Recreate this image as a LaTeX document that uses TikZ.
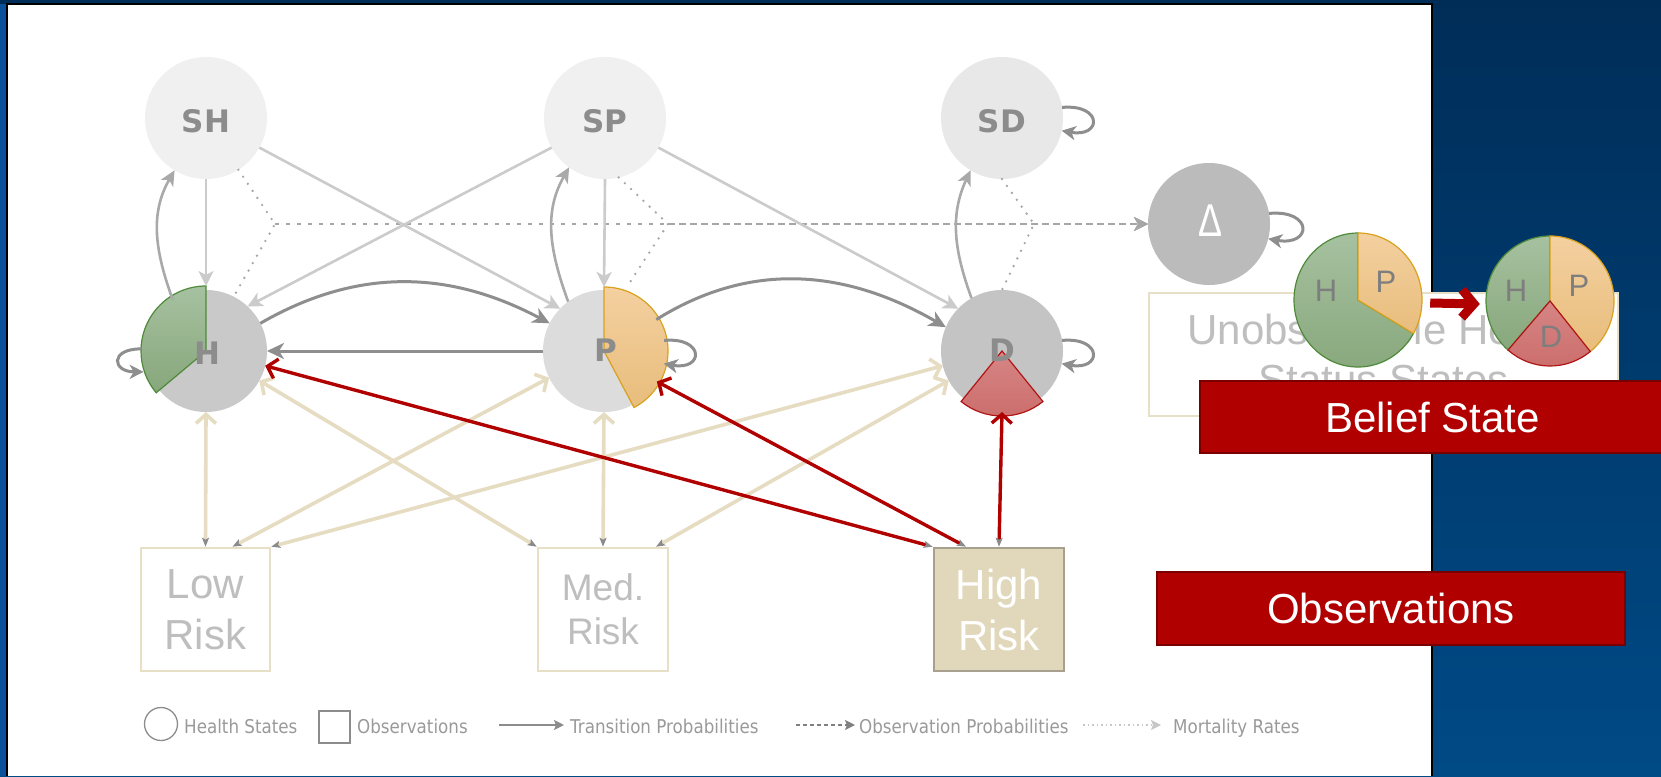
\documentclass[tikz,border=0pt]{standalone}
\usepackage{graphicx}
\usepackage{fontspec}
\setmainfont{Liberation Sans}
\newfontfamily\statefont{DejaVu Sans}
\newfontfamily\legendfont[FakeStretch=0.88]{DejaVu Sans}
\usetikzlibrary{arrows.meta}

% palette
\definecolor{bgtop}{HTML}{002D58}
\definecolor{bgbot}{HTML}{004A86}
\definecolor{bgedge}{HTML}{0B5199}
\definecolor{stpale}{HTML}{F0F0F0}
\definecolor{stpaleD}{HTML}{E8E8E8}
\definecolor{stH}{HTML}{C9C9C9}
\definecolor{stP}{HTML}{DCDCDC}
\definecolor{stD}{HTML}{C4C4C4}
\definecolor{stDelta}{HTML}{BBBBBB}
\definecolor{labgrey}{HTML}{8C8C8C}
\definecolor{tlight}{HTML}{CBCBCB}
\definecolor{tmid}{HTML}{A9A9A9}
\definecolor{tdark}{HTML}{8E8E8E}
\definecolor{mgrey}{HTML}{A6A6A6}
\definecolor{beigeline}{HTML}{E6DCC2}
\definecolor{beigebox}{HTML}{E8DFC7}
\definecolor{highfill}{HTML}{E1D7BA}
\definecolor{highedge}{HTML}{A8A08E}
\definecolor{boxtext}{HTML}{BEBEBE}
\definecolor{tipgrey}{HTML}{8A8A8A}
\definecolor{alarm}{HTML}{B00000}
\definecolor{alarmedge}{HTML}{7A0000}
\definecolor{greenA}{HTML}{A6C1A0}
\definecolor{greenB}{HTML}{87A77B}
\definecolor{greenedge}{HTML}{4F8A3A}
\definecolor{orangeA}{HTML}{F4D0A0}
\definecolor{orangeB}{HTML}{E8BD7C}
\definecolor{orangeedge}{HTML}{D9A11E}
\definecolor{redA}{HTML}{D68585}
\definecolor{redB}{HTML}{CB6D6B}
\definecolor{rededge}{HTML}{B01515}
\definecolor{pielab}{HTML}{7E7E7E}
\definecolor{legtext}{HTML}{9A9A9A}
\definecolor{legline}{HTML}{8C8C8C}

\begin{document}
\begin{tikzpicture}[x=1pt, y=1pt,
  stcircle/.style={circle, minimum size=122pt, inner sep=0pt, outer sep=0pt},
  stlabel/.style={inner sep=0pt, text=labgrey, font=\statefont\bfseries\fontsize{31}{36}\selectfont},
  trans/.style={draw=tlight, line width=2.6pt, -{Stealth[length=15pt,width=15pt,inset=4pt]}},
  transmid/.style={draw=tmid, line width=2.6pt, -{Stealth[length=15pt,width=14pt,inset=4pt]}},
  transdark/.style={draw=tdark, line width=3pt, -{Stealth[length=17pt,width=16pt,inset=5pt]}},
  selfloop/.style={draw=tdark, line width=3pt, -{Stealth[length=14pt,width=14pt,inset=4pt]}},
  mort/.style={draw=mgrey, line width=2.6pt, line cap=round, dash pattern=on 0pt off 8.5pt},
  mortline/.style={draw=mgrey, line width=2pt, dash pattern=on 4pt off 7pt, -{Stealth[length=14pt,width=14pt,inset=4pt]}},
  obsline/.style={draw=beigeline, line width=3.6pt, {Straight Barb[length=9pt,width=20pt]}-{Stealth[length=9pt,width=7pt,inset=2pt,color=tipgrey]}},
  alarmline/.style={draw=alarm, line width=3.4pt, {Straight Barb[length=9pt,width=20pt]}-{Stealth[length=9pt,width=7pt,inset=2pt,color=tipgrey]}},
  obsbox/.style={rectangle, draw=beigebox, line width=2.6pt, fill=white, minimum height=123pt, inner sep=0pt, align=center, text=boxtext},
  redbox/.style={rectangle, fill=alarm, draw=alarmedge, line width=1.5pt, text=white, inner sep=0pt, font=\fontsize{42}{50}\selectfont},
  pielabel/.style={inner sep=0pt, text=pielab, font=\fontsize{31}{36}\selectfont},
  legtxt/.style={anchor=base west, inner sep=0pt, text=legtext, font=\legendfont\fontsize{19}{22}\selectfont},
  slice/.style={line width=1.2pt},
]
\useasboundingbox (0,0) rectangle (1661,-776);

% backdrop and white panel
\shade[top color=bgtop, bottom color=bgbot] (0,0) rectangle (1661,-776);
\fill[bgedge] (0,-4) rectangle (7,-776);
\fill[white] (7,-4) rectangle (1432,-776);
\draw[black, line width=1.5pt] (7,-776) -- (7,-4) -- (1432,-4) -- (1432,-776);

% caption box for the hidden states
\node[obsbox, minimum width=469pt, minimum height=123pt, font=\fontsize{42}{50}\selectfont] (unobs) at (1383.5,-354.5) {Unobservable Health\\Status States};

% health states
\node[stcircle, fill=stpale] (SH) at (206,-118) {};
\node[stcircle, fill=stpale] (SP) at (605,-118) {};
\node[stcircle, fill=stpaleD] (SD) at (1002,-118) {};
\node[stcircle, fill=stH] (H) at (206,-351) {};
\node[stcircle, fill=stP] (P) at (604,-351) {};
\node[stcircle, fill=stD] (D) at (1002,-351) {};
\node[stcircle, fill=stDelta] (Delta) at (1209,-224) {};

% belief wedges on the current states
\path[slice, draw=greenedge, top color=greenA, bottom color=greenB]
  (H.center) -- ++(90:65) arc[start angle=90, end angle=220, radius=65] -- cycle;
\path[slice, draw=orangeedge, top color=orangeA, bottom color=orangeB]
  (P.center) -- ++(90:64) arc[start angle=90, end angle=-62, radius=64] -- cycle;
\path[slice, draw=rededge, top color=redA, bottom color=redB]
  (D.center) -- ++(-129:65) arc[start angle=-129, end angle=-51, radius=65] -- cycle;

% state labels
\node[stlabel] (SHl) at (206,-121) {SH};
\node[stlabel] (SPl) at (605,-121) {SP};
\node[stlabel] (SDl) at (1002,-121) {SD};
\node[stlabel] (Hl) at (207,-353) {H};
\node[stlabel] (Pl) at (606,-350) {P};
\node[stlabel] (Dl) at (1002,-350) {D};
\node[inner sep=0pt, text=white, font=\fontsize{46}{50}\selectfont] (Deltal) at (1210,-221) {\scalebox{0.78}[1]{Δ}};

% mortality paths
\coordinate (J1) at (275,-224);
\coordinate (J2) at (668,-224);
\coordinate (J3) at (1034,-224);
\draw[mort] (SH.-58) -- (J1) -- (H.63);
\draw[mort, shorten >=8pt] (SP.-77) -- (J2) -- (P.72);
\draw[mort] (SD.-90) -- (J3) -- (D.90);
\draw[mortline] (J1) -- (Delta.west);
\draw[mortline] (J2) -- (Delta.west);
\draw[mortline] (J3) -- (Delta.west);

% transitions
\draw[trans] (SH.-90) -- ([yshift=4pt]H.90);
\draw[trans] (SP.-90) -- ([yshift=3pt]P.90);
\draw[trans] (SH.-29) -- (P.136);
\draw[trans] (SP.209) -- (H.47);
\draw[trans] (SP.-29) -- (D.136);
\draw[transmid] (H.123) to[out=110, in=240] (SH.239);
\draw[transmid] (P.126) to[out=110, in=240] (SP.234);
\draw[transmid] (D.120) to[out=110, in=245] (SD.239);
\draw[transdark] (H.27) to[out=30, in=152] (P.153);
\draw[transdark] (P.31) to[out=32, in=150] (D.157);
\draw[transdark] (P.180) -- (H.0);

% self transitions
\draw[selfloop] ([xshift=-4pt]H.178) to[out=180, in=180, looseness=3.5] ([xshift=-5pt]H.200);
\draw[selfloop] (P.10) to[out=5, in=-10, looseness=4.5] (P.-12);
\draw[selfloop] (D.10) to[out=5, in=-10, looseness=4.5] (D.-12);
\draw[selfloop] (SD.10) to[out=5, in=-10, looseness=4.5] (SD.-12);
\draw[selfloop] (Delta.10) to[out=5, in=-10, looseness=4.5] (Delta.-14);

% observations
\node[obsbox, minimum width=129pt, font=\fontsize{42}{51}\selectfont] (low) at (205.5,-609.5) {Low\\Risk};
\node[obsbox, minimum width=130pt, font=\fontsize{37}{44}\selectfont] (med) at (603,-609.5) {Med.\\Risk};
\node[obsbox, minimum width=130pt, fill=highfill, draw=highedge, text=white, font=\fontsize{42}{51}\selectfont] (high) at (999,-609.5) {High\\Risk};

% observation probabilities
\draw[obsline] (H.-90) -- (low.north);
\draw[obsline] (P.206) -- ([xshift=27pt]low.north);
\draw[obsline] (D.194) -- (low.north east);
\draw[obsline] (H.-29) -- (med.north west);
\draw[obsline] (P.-90) -- (med.north);
\draw[obsline] (D.209) -- ([xshift=53pt]med.north);
\draw[alarmline] (H.-14) -- (high.north west);
\draw[alarmline] (P.-30) -- ([xshift=-33pt]high.north);
\draw[alarmline] (D.-90) -- (high.north);

% belief state pies
\node[circle, minimum size=128pt, inner sep=0pt] (pie1) at (1358,-300) {};
\node[circle, minimum size=128pt, inner sep=0pt] (pie2) at (1550,-301) {};
\path[slice, draw=greenedge, top color=greenA, bottom color=greenB]
  (pie1.center) -- ++(-30:64 and 67) arc[start angle=-30, end angle=-270, x radius=64, y radius=67] -- cycle;
\path[slice, draw=orangeedge, top color=orangeA, bottom color=orangeB]
  (pie1.center) -- ++(90:64 and 67) arc[start angle=90, end angle=-30, x radius=64, y radius=67] -- cycle;
\path[slice, draw=greenedge, top color=greenA, bottom color=greenB]
  (pie2.center) -- ++(90:64 and 65) arc[start angle=90, end angle=229, x radius=64, y radius=65] -- cycle;
\path[slice, draw=orangeedge, top color=orangeA, bottom color=orangeB]
  (pie2.center) -- ++(-51:64 and 65) arc[start angle=-51, end angle=90, x radius=64, y radius=65] -- cycle;
\path[slice, draw=rededge, top color=redA, bottom color=redB]
  (pie2.center) -- ++(229:64 and 65) arc[start angle=229, end angle=309, x radius=64, y radius=65] -- cycle;
\node[pielabel] (p1H) at (1326,-291) {H};
\node[pielabel] (p1P) at (1386,-282) {P};
\node[pielabel] (p2H) at (1516,-291) {H};
\node[pielabel] (p2P) at (1579,-286) {P};
\node[pielabel] (p2D) at (1551,-337) {D};
\draw[draw=alarm, line width=9pt, -{Straight Barb[length=12pt,width=28pt]}]
  ([xshift=8pt,yshift=-3pt]pie1.east) -- ([xshift=-6pt,yshift=-3pt]pie2.west);

% captions
\node[redbox, minimum width=465pt, minimum height=72pt] (belief) at (1432.5,-417) {Belief State};
\node[redbox, minimum width=468pt, minimum height=73pt] (observ) at (1391,-608.5) {Observations};

% key
\node[circle, draw=legline, line width=1.3pt, minimum size=33pt, inner sep=0pt] (legH) at (161,-724) {};
\node[legtxt] (legHt) at (184,-733) {Health States};
\node[rectangle, draw=legline, line width=1.3pt, minimum width=31pt, minimum height=32pt, inner sep=0pt] (legO) at (334.5,-727) {};
\node[legtxt] (legOt) at (357,-733) {Observations};
\coordinate (legTa) at (499,-725);
\coordinate (legTb) at (564,-725);
\draw[draw=legline, line width=1.6pt, -{Stealth[length=10pt,width=10pt,inset=2pt]}] (legTa) -- (legTb);
\node[legtxt] (legTt) at (570,-733) {Transition Probabilities};
\coordinate (legPa) at (796,-725);
\coordinate (legPb) at (855,-725);
\draw[draw=gray, line width=1.5pt, dash pattern=on 4pt off 3pt, -{Stealth[length=10pt,width=10pt,inset=2pt]}] (legPa) -- (legPb);
\node[legtxt] (legPt) at (859,-733) {Observation Probabilities};
\coordinate (legMa) at (1083,-725);
\coordinate (legMb) at (1161,-725);
\draw[draw=black!22, line width=1.5pt, dash pattern=on 1.5pt off 3pt, -{Stealth[length=10pt,width=10pt,inset=2pt]}] (legMa) -- (legMb);
\node[legtxt] (legMt) at (1173,-733) {Mortality Rates};
\end{tikzpicture}
\end{document}
